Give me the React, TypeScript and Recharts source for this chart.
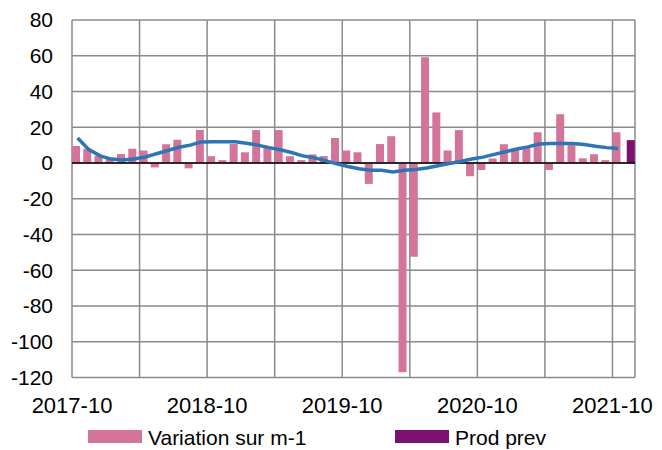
import React from 'react';
import {
  ComposedChart,
  Bar,
  Line,
  XAxis,
  YAxis,
  CartesianGrid,
  ReferenceLine,
  Legend,
} from 'recharts';

const months = [
  '2017-10', '2017-11', '2017-12',
  '2018-01', '2018-02', '2018-03', '2018-04', '2018-05', '2018-06', '2018-07', '2018-08', '2018-09', '2018-10', '2018-11', '2018-12',
  '2019-01', '2019-02', '2019-03', '2019-04', '2019-05', '2019-06', '2019-07', '2019-08', '2019-09', '2019-10', '2019-11', '2019-12',
  '2020-01', '2020-02', '2020-03', '2020-04', '2020-05', '2020-06', '2020-07', '2020-08', '2020-09', '2020-10', '2020-11', '2020-12',
  '2021-01', '2021-02', '2021-03', '2021-04', '2021-05', '2021-06', '2021-07', '2021-08', '2021-09', '2021-10', '2021-11',
];

const variation = [
  9.5, 8, 4, 2.5, 5, 8, 7, -2.5, 10.5, 13,
  -3, 18.5, 3.8, 1.6, 10.6, 6, 18.4, 8.5, 18.4, 3.8,
  1.6, 4.8, 3.9, 14, 7, 6, -11.7, 10.6, 15, -117,
  -52.4, 59.1, 28.3, 7, 18.4, -7.4, -3.9, 2.5, 10.5, 7.7,
  8.3, 17.2, -3.9, 27.3, 10, 2.6, 4.9, 1.6, 17.2,
];

const trend = [
  14, 7.5, 4, 2.2, 1.7, 2.2, 3.4, 5.2, 7, 8.8,
  10, 11.8, 11.9, 11.9, 11.9, 11, 10, 8.6, 7.4, 5.9,
  4, 2.9, 1.3, -0.5, -2, -3.2, -4, -4, -5, -4,
  -3.6, -2.8, -1.5, -0.3, 0.8, 2.2, 3.3, 4.8, 6.3, 7.8,
  9, 10.6, 10.9, 10.9, 10.9, 10.4, 9.4, 8.6, 8.1,
];

const prodPrevMonth = '2021-11';
const prodPrevValue = 12.8;

const yTicks = [-120, -100, -80, -60, -40, -20, 0, 20, 40, 60, 80];
const xGridTicks = [0, 6, 12, 18, 24, 30, 36, 42, 48];
const xLabelMonths = ['2017-10', '2018-10', '2019-10', '2020-10', '2021-10'];
const legendOrder = ['Variation sur m-1', 'Prod prev'];

const data = months.map((m, i) => ({
  x: i + 0.5,
  month: m,
  variation: i < variation.length ? variation[i] : null,
  prodPrev: m === prodPrevMonth ? prodPrevValue : null,
  trend: i < trend.length ? trend[i] : null,
}));

const FONT = '"Liberation Sans", Arial, sans-serif';
const PINK = '#D4749B';
const PURPLE = '#7B106F';
const BLUE = '#2E75B6';
const GRID = '#8A8A8A';

const legendLefts = [88, 395];

const LegendContent = (props: any) => {
  const payload = (props.payload || [])
    .filter((p: any) => p.type !== 'none' && legendOrder.includes(p.value))
    .sort((a: any, b: any) => legendOrder.indexOf(a.value) - legendOrder.indexOf(b.value));
  return (
    <div style={{ position: 'relative', width: 662, height: 26, fontFamily: FONT, fontSize: 21 }}>
      {payload.map((p: any, i: number) => (
        <div key={p.value} style={{ position: 'absolute', left: legendLefts[i], top: 0, height: 26 }}>
          <div style={{ position: 'absolute', left: 0, top: 6, width: 54, height: 13, background: p.color }} />
          <div style={{ position: 'absolute', left: 60, top: 1, lineHeight: '26px', whiteSpace: 'nowrap', color: '#000' }}>
            {p.value}
          </div>
        </div>
      ))}
    </div>
  );
};

export default function App() {
  return (
    <div style={{ position: 'absolute', left: 0, top: 0, width: 662, height: 450, background: '#fff' }}>
      <ComposedChart
        width={662}
        height={450}
        data={data}
        margin={{ top: 20, right: 27, left: 0, bottom: 0 }}
        barSize={8}
        barGap={-5}
      >
        <CartesianGrid stroke={GRID} strokeWidth={1.5} vertical horizontal />
        <XAxis
          dataKey="x"
          type="number"
          domain={[0, 50]}
          ticks={xGridTicks}
          interval={0}
          height={46.5}
          tickLine={false}
          axisLine={false}
          tickMargin={14}
          tick={{ fill: '#000', fontSize: 22, fontFamily: FONT }}
          tickFormatter={(v: number) => (xLabelMonths.includes(months[v]) ? months[v] : '')}
        />
        <YAxis
          type="number"
          domain={[-120, 80]}
          ticks={yTicks}
          interval={0}
          width={72}
          tickLine={false}
          axisLine={false}
          tickMargin={13}
          tick={{ fill: '#000', fontSize: 21, fontFamily: FONT }}
        />
        <Legend verticalAlign="bottom" align="left" content={<LegendContent />} />
        <Bar dataKey="variation" name="Variation sur m-1" fill={PINK} isAnimationActive={false} />
        <Bar dataKey="prodPrev" name="Prod prev" fill={PURPLE} isAnimationActive={false} />
        <ReferenceLine y={0} stroke="#000" strokeWidth={1.5} />
        <Line
          dataKey="trend"
          type="linear"
          stroke={BLUE}
          strokeWidth={3.5}
          dot={false}
          legendType="none"
          isAnimationActive={false}
        />
      </ComposedChart>
    </div>
  );
}
